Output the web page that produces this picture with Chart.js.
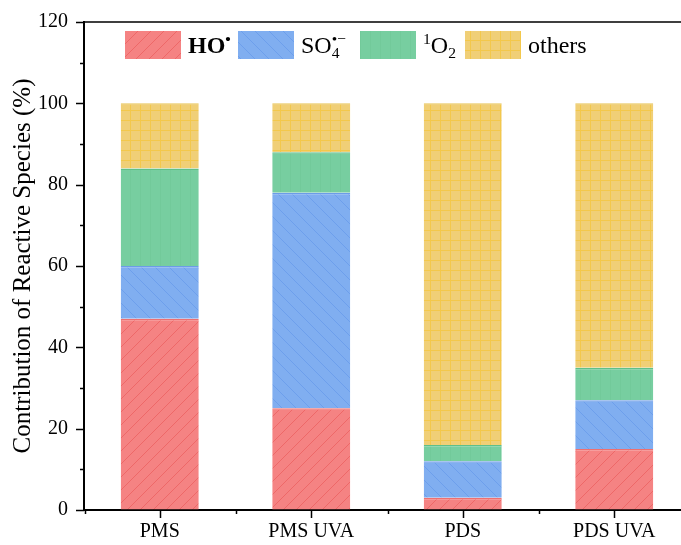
<!DOCTYPE html>
<html lang="en">
<head>
<meta charset="UTF-8">
<title>Contribution of Reactive Species</title>
<style>
  html, body { margin: 0; padding: 0; background: #fff; overflow: hidden; }
  #wrap { width: 700px; height: 545px; }
</style>
<script src="https://cdn.jsdelivr.net/npm/chart.js"></script>
</head>
<body>
<div id="wrap"><canvas id="chart" width="700" height="545"></canvas></div>
<script>
// Data
const categories = ['PMS', 'PMS UVA', 'PDS', 'PDS UVA'];
const seriesNames = ['HO\u2022', 'SO4\u2022\u2212', '1O2', 'others'];
const hoValues = [47, 25, 3, 15];
const so4Values = [13, 53, 9, 12];
const o2Values = [24, 10, 4, 8];
const otherValues = [16, 12, 84, 65];
const yMin = 0, yMax = 120, yStep = 20;

const serif = "'Liberation Serif', 'Times New Roman', serif";

// How each legend name is typeset (sub/superscripts)
const richNames = {
  'HO\u2022': [{ t: 'HO', bold: true }, { t: '\u2022', sup: true, bold: true }],
  'SO4\u2022\u2212': [{ t: 'SO' }, { t: '4', sub: true, stack: true }, { t: '\u2022\u2212', sup: true }],
  '1O2': [{ t: '1', sup: true }, { t: 'O' }, { t: '2', sub: true }],
  'others': [{ t: 'others' }]
};
// legend box offsets from the plot's left edge
const legendOffsets = [41, 154, 276, 381];

// pattern fills
function makePattern(size, bg, line, kind) {
  const c = document.createElement('canvas');
  c.width = size; c.height = size;
  const g = c.getContext('2d');
  g.fillStyle = bg;
  g.fillRect(0, 0, size, size);
  g.strokeStyle = line;
  g.lineWidth = 1;
  g.beginPath();
  if (kind === 'fwd') {
    g.moveTo(-1, size + 1); g.lineTo(size + 1, -1);
    g.moveTo(-1, 1); g.lineTo(1, -1);
    g.moveTo(size - 1, size + 1); g.lineTo(size + 1, size - 1);
  } else if (kind === 'back') {
    g.moveTo(-1, -1); g.lineTo(size + 1, size + 1);
    g.moveTo(size - 1, -1); g.lineTo(size + 1, 1);
    g.moveTo(-1, size - 1); g.lineTo(1, size + 1);
  } else if (kind === 'vert') {
    g.moveTo(0.5, 0); g.lineTo(0.5, size);
  } else if (kind === 'grid') {
    g.moveTo(0.5, 0); g.lineTo(0.5, size);
    g.moveTo(0, 0.5); g.lineTo(size, 0.5);
  }
  g.stroke();
  return document.getElementById('chart').getContext('2d').createPattern(c, 'repeat');
}

const fills = [
  makePattern(13, '#f58383', '#ee6868', 'fwd'),
  makePattern(14, '#80aef0', '#6d9fec', 'back'),
  makePattern(10, '#77cea0', '#72ca9a', 'vert'),
  makePattern(10, '#f0cf77', '#f3c84c', 'grid')
];
const edges = ['#ee7070', '#6c9ce8', '#5fbf8a', '#e9c55a'];
const valueSets = [hoValues, so4Values, o2Values, otherValues];

const datasets = seriesNames.map((name, i) => ({
  label: name,
  data: valueSets[i],
  backgroundColor: fills[i],
  borderColor: edges[i],
  borderWidth: { top: 1.5, left: 0, right: 0, bottom: 0 },
  borderSkipped: false,
  categoryPercentage: 1,
  barPercentage: 0.515
}));

// ticks, top frame and legend
const decorPlugin = {
  id: 'decor',
  afterDraw(chart) {
    const ctx = chart.ctx;
    const area = chart.chartArea;
    const xs = chart.scales.x, ys = chart.scales.y;
    ctx.save();
    ctx.strokeStyle = '#000';
    ctx.lineWidth = 1.5;
    ctx.beginPath();
    // top frame
    ctx.moveTo(area.left, area.top);
    ctx.lineTo(area.right, area.top);
    // y ticks, majors + minors
    for (let v = yMin; v <= yMax; v += yStep / 2) {
      const y = Math.round(ys.getPixelForValue(v)) + 0.5;
      const len = (v % yStep === 0) ? 8 : 4;
      ctx.moveTo(area.left, y);
      ctx.lineTo(area.left - len, y);
    }
    // x ticks
    const half = (xs.getPixelForValue(1) - xs.getPixelForValue(0)) / 2;
    categories.forEach((c, i) => {
      const x = Math.round(xs.getPixelForValue(i)) + 0.5;
      ctx.moveTo(x, area.bottom);
      ctx.lineTo(x, area.bottom + 8);
      const xm = Math.round(x - half) + 0.5;
      ctx.moveTo(xm, area.bottom);
      ctx.lineTo(xm, area.bottom + 4);
    });
    ctx.stroke();

    // legend
    const fs = 24;
    const top = area.top + 9;
    const boxW = 56, boxH = 28;
    ctx.textBaseline = 'alphabetic';
    chart.data.datasets.forEach((ds, i) => {
      let x = area.left + legendOffsets[i];
      ctx.fillStyle = ds.backgroundColor;
      ctx.fillRect(x, top, boxW, boxH);
      x += boxW + 7;
      const base = top + boxH / 2 + fs * 0.33;
      let lastW = 0;
      (richNames[ds.label] || [{ t: ds.label }]).forEach(p => {
        const size = (p.sub || p.sup) ? fs * 0.65 : fs;
        ctx.font = (p.bold ? 'bold ' : '') + size + 'px ' + serif;
        ctx.fillStyle = '#000';
        let y = base;
        if (p.sup) y = base - fs * 0.38;
        if (p.sub) y = base + fs * 0.22;
        ctx.fillText(p.t, x, y);
        const w = ctx.measureText(p.t).width;
        if (p.stack) { lastW = w; } else { x += Math.max(w, lastW); lastW = 0; }
      });
    });
    ctx.restore();
  }
};

new Chart(document.getElementById('chart'), {
  type: 'bar',
  data: { labels: categories, datasets: datasets },
  options: {
    responsive: false,
    animation: false,
    layout: { padding: { top: 22, right: 10, left: 0, bottom: 0 } },
    plugins: {
      legend: { display: false },
      tooltip: { enabled: false }
    },
    scales: {
      x: {
        stacked: true,
        grid: { display: true, drawOnChartArea: false, tickLength: 8, tickColor: 'rgba(0,0,0,0)' },
        border: { display: true, color: '#000', width: 2 },
        ticks: { color: '#000', font: { family: serif, size: 20 }, padding: 2, maxRotation: 0 },
        afterFit(s) { s.height = 35; }
      },
      y: {
        stacked: true,
        min: yMin,
        max: yMax,
        grid: { display: true, drawOnChartArea: false, tickLength: 8, tickColor: 'rgba(0,0,0,0)' },
        border: { display: true, color: '#000', width: 2 },
        ticks: { stepSize: yStep, color: '#000', font: { family: serif, size: 20 }, padding: 8 },
        title: {
          display: true,
          text: 'Contribution of Reactive Species (%)',
          color: '#000',
          font: { family: serif, size: 25 },
          padding: { top: 8, bottom: 0 }
        },
        afterFit(s) { s.width = 84; }
      }
    }
  },
  plugins: [decorPlugin]
});
</script>
</body>
</html>
